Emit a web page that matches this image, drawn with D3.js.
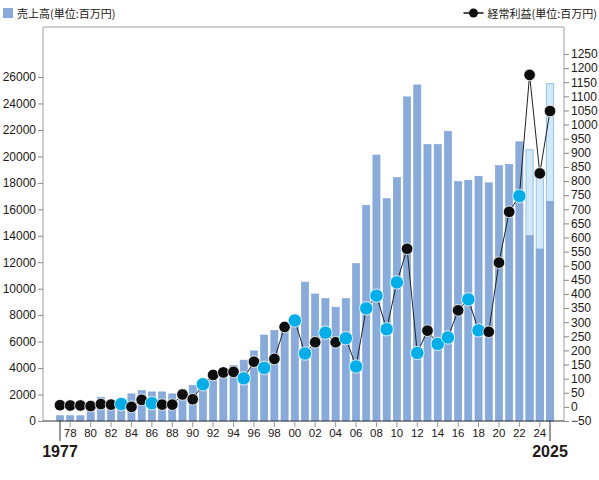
<!DOCTYPE html>
<html>
<head>
<meta charset="utf-8">
<script src="https://cdn.jsdelivr.net/npm/d3@7"></script>
<style>
  body { margin: 0; background: #fff; }
  svg text { font-family: "Noto Sans CJK JP", "Liberation Sans", sans-serif; fill: #231815; }
  svg text.num { font-family: "Liberation Sans", Arial, sans-serif; }
</style>
</head>
<body>
<div id="chart"></div>
<script>
// 年度
const years = d3.range(1977, 2026);
// 売上高(単位:百万円)
const sales = [400, 400, 400, 700, 1800, 1000, 900, 2050, 2300, 2200,
  2200, 2050, 2400, 2700, 3000, 3200, 3400, 4200, 4600, 5300,
  6500, 6850, 7000, 7200, 10500, 9600, 9250, 8600, 9250, 11900,
  16300, 20100, 16800, 18400, 24500, 25400, 20900, 20900, 21900, 18100,
  18200, 18500, 18000, 19300, 19400, 21100, 14000, 13000, 16600];
// 計画分（薄い部分の上端）
const planYears = [2023, 2024, 2025];
const planSales = [20500, 18800, 25500];
// 経常利益(単位:百万円)
const profit = [6, 5, 5, 3, 10, 8, 10, 0, 25, 13,
  8, 8, 44, 27, 80, 113, 122, 124, 101, 160,
  138, 170, 283, 306, 189, 229, 263, 229, 243, 143,
  349, 394, 275, 441, 560, 191, 270, 223, 246, 342,
  381, 271, 266, 511, 691, 747, 1176, 827, 1048];
// 水色で描く年
const cyanYears = [1983, 1986, 1991, 1995, 1997, 2000, 2001, 2003, 2005, 2006,
  2007, 2008, 2009, 2010, 2012, 2014, 2015, 2017, 2018, 2022];
// 目盛
const leftTicks = d3.range(0, 26001, 2000);
const rightTicks = d3.range(-50, 1251, 50);
const yearTicks = d3.range(1978, 2025, 2);

const W = 599, H = 480;
const frame = {left: 43, right: 564, top: 27, bottom: 421};

const svg = d3.select("#chart").append("svg")
  .attr("width", W).attr("height", H);

// scales
const step = 490 / 48;
const x = d3.scaleBand()
  .domain(years)
  .range([60 - step / 2, 550 + step / 2])
  .paddingInner(0.3)
  .paddingOuter(0.15);
const xc = d => x(d) + x.bandwidth() / 2;

const yL = d3.scaleLinear().domain([0, 26000]).range([421, 77]);
const yR = d3.scaleLinear().domain([-50, 1250]).range([421, 54]);

// frame
svg.append("path")
  .attr("d", `M${frame.left},${frame.bottom}V${frame.top}H${frame.right}V${frame.bottom}`)
  .attr("fill", "none")
  .attr("stroke", "#a0a0a0")
  .attr("stroke-width", 1);

// bars
const data = years.map((y, i) => ({year: y, sales: sales[i], profit: profit[i], cyan: cyanYears.includes(y)}));

svg.append("g").selectAll("rect.plan")
  .data(planYears)
  .enter().append("rect")
  .attr("x", (d) => x(d))
  .attr("width", x.bandwidth())
  .attr("y", (d, i) => yL(planSales[i]))
  .attr("height", (d, i) => yL(0) - yL(planSales[i]))
  .attr("fill", "#d2e9f9")
  .attr("stroke", "#94c0e8")
  .attr("stroke-width", 1);

svg.append("g").selectAll("rect.sale")
  .data(data)
  .enter().append("rect")
  .attr("x", d => x(d.year))
  .attr("width", x.bandwidth())
  .attr("y", d => yL(d.sales))
  .attr("height", d => yL(0) - yL(d.sales))
  .attr("fill", "#88abdc")
  .attr("stroke", "#7ea3d8")
  .attr("stroke-width", 0.6);

// left axis
const gL = svg.append("g")
  .attr("transform", `translate(${frame.left},0)`)
  .call(d3.axisLeft(yL).tickValues(leftTicks).tickSize(5).tickPadding(2).tickFormat(d3.format("d")));
gL.select(".domain").remove();
gL.selectAll(".tick line").attr("stroke", "#888");
gL.selectAll(".tick text").attr("class", "num").style("font-size", "12px").attr("fill", "#231815");

// right axis
const gR = svg.append("g")
  .attr("transform", `translate(${frame.right},0)`)
  .call(d3.axisRight(yR).tickValues(rightTicks).tickSize(5).tickPadding(2).tickFormat(d3.format("d")));
gR.select(".domain").remove();
gR.selectAll(".tick line").attr("stroke", "#888");
gR.selectAll(".tick text").attr("class", "num").style("font-size", "12px").attr("fill", "#231815");

// bottom axis
svg.append("line")
  .attr("x1", frame.left).attr("x2", frame.right)
  .attr("y1", frame.bottom).attr("y2", frame.bottom)
  .attr("stroke", "#333").attr("stroke-width", 1.2);

const gB = svg.append("g");
gB.selectAll("line")
  .data(yearTicks)
  .enter().append("line")
  .attr("x1", d => xc(d)).attr("x2", d => xc(d))
  .attr("y1", frame.bottom).attr("y2", frame.bottom + 6)
  .attr("stroke", "#999");
gB.selectAll("text")
  .data(yearTicks)
  .enter().append("text")
  .attr("class", "num")
  .attr("x", d => xc(d))
  .attr("y", 437)
  .attr("text-anchor", "middle")
  .style("font-size", "11.5px")
  .text(d => String(d).slice(2));

[1977, 2025].forEach(yr => {
  svg.append("line")
    .attr("x1", xc(yr)).attr("x2", xc(yr))
    .attr("y1", frame.bottom).attr("y2", 441)
    .attr("stroke", "#333");
  svg.append("text")
    .attr("class", "num")
    .attr("x", xc(yr))
    .attr("y", 457)
    .attr("text-anchor", "middle")
    .style("font-size", "16px")
    .style("font-weight", "bold")
    .text(yr);
});

// profit line
svg.append("path")
  .datum(data)
  .attr("d", d3.line().x(d => xc(d.year)).y(d => yR(d.profit)))
  .attr("fill", "none")
  .attr("stroke", "#222")
  .attr("stroke-width", 1);

svg.append("g").selectAll("circle")
  .data(data)
  .enter().append("circle")
  .attr("cx", d => xc(d.year))
  .attr("cy", d => yR(d.profit))
  .attr("r", d => d.cyan ? 6.7 : 5.8)
  .attr("fill", d => d.cyan ? "#00aee9" : "#0d0d0d")
  .attr("stroke", "#fff")
  .attr("stroke-width", 0.8);

// legends
svg.append("rect")
  .attr("x", 3).attr("y", 8).attr("width", 10).attr("height", 10)
  .attr("fill", "#88abdc");
svg.append("text")
  .attr("x", 17).attr("y", 17.5)
  .style("font-size", "11px")
  .text("売上高(単位:百万円)");

const lt = svg.append("text")
  .attr("x", 597).attr("y", 17.5)
  .attr("text-anchor", "end")
  .style("font-size", "11px")
  .text("経常利益(単位:百万円)");
const lx = 597 - lt.node().getComputedTextLength() - 4;
svg.append("line")
  .attr("x1", lx - 20).attr("x2", lx)
  .attr("y1", 13).attr("y2", 13)
  .attr("stroke", "#111").attr("stroke-width", 1.5);
svg.append("circle")
  .attr("cx", lx - 10).attr("cy", 13).attr("r", 4.5)
  .attr("fill", "#0d0d0d");
</script>
</body>
</html>
